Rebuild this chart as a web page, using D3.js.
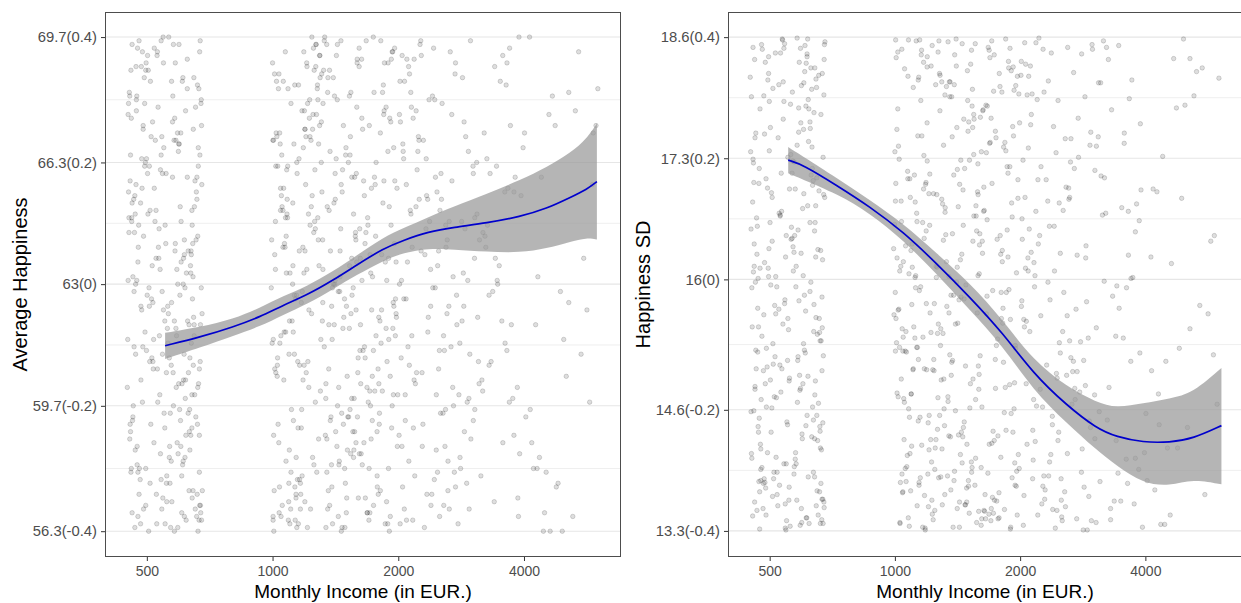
<!DOCTYPE html>
<html><head><meta charset="utf-8">
<script src="https://cdn.jsdelivr.net/npm/d3@7"></script>
<style>body{margin:0;background:#fff}svg{display:block}</style>
</head><body><svg id="c" width="1241" height="603"></svg>
<script>
// ---------- data ----------
const xTicks = [500, 1000, 2000, 4000];
const avgTicks = [69.7, 66.3, 63, 59.7, 56.3];
const avgLabels = ["69.7(0.4)", "66.3(0.2)", "63(0)", "59.7(-0.2)", "56.3(-0.4)"];
const sdTicks = [18.6, 17.3, 16, 14.6, 13.3];
const sdLabels = ["18.6(0.4)", "17.3(0.2)", "16(0)", "14.6(-0.2)", "13.3(-0.4)"];

// smooth fits (loess + CI) — left panel
const avgSmoothX = [553, 670, 806, 933, 1061, 1208, 1399, 1591, 1843, 2058, 2362, 2711, 3259, 3916, 4538, 5160, 5658, 5979];
const avgFit   = [61.33, 61.56, 61.84, 62.11, 62.43, 62.70, 63.11, 63.52, 63.97, 64.19, 64.42, 64.54, 64.66, 64.83, 65.05, 65.35, 65.57, 65.78];
const avgUpper = [61.68, 61.83, 62.05, 62.36, 62.68, 62.94, 63.35, 63.78, 64.27, 64.52, 64.82, 65.10, 65.45, 65.82, 66.17, 66.55, 66.95, 67.36];
const avgLower = [60.97, 61.28, 61.60, 61.85, 62.17, 62.45, 62.87, 63.25, 63.64, 63.85, 63.97, 63.94, 63.88, 63.85, 63.97, 64.15, 64.26, 64.21];
// right panel
const sdSmoothX = [554, 602, 724, 871, 1047, 1260, 1514, 1821, 2150, 2585, 3052, 3409, 3950, 4578, 5209, 6094];
const sdFit   = [17.28, 17.23, 17.01, 16.78, 16.51, 16.17, 15.81, 15.42, 14.99, 14.65, 14.40, 14.31, 14.25, 14.25, 14.29, 14.43];
const sdUpper = [17.42, 17.32, 17.09, 16.85, 16.60, 16.28, 15.96, 15.56, 15.13, 14.85, 14.68, 14.62, 14.67, 14.72, 14.78, 15.05];
const sdLower = [17.14, 17.07, 16.92, 16.71, 16.42, 16.06, 15.67, 15.28, 14.81, 14.46, 14.17, 14.00, 13.81, 13.78, 13.86, 13.80];

// jittered observations (batch A)
const incomeLow = [
452,611,538,668,497,574,461,649,521,602,478,673,549,486,637,455,588,659,509,470,
625,562,483,676,531,644,466,594,664,517,458,573,612,491,657,545,451,632,503,582,
671,474,556,619,463,527,666,495,641,569,468,603,513,662,480,585,651,457,541,628,
489,675,552,471,615,507,654,578,460,591,524,645,476,669,536,599,465,621,493,647,
566,453,607,543,672,473,579,634,499,661,456,558,617,485,646,533,469,596,663,515];
const avgLow = [
67.9,58.2,63.4,60.7,68.8,57.1,65.2,61.9,69.4,59.3,64.6,56.8,66.7,62.3,58.9,68.1,60.2,65.9,57.6,63.0,
69.1,61.4,56.5,67.3,59.8,64.1,62.8,58.4,66.2,60.9,57.9,68.5,63.7,56.9,65.5,61.1,67.6,59.0,64.9,62.0,
69.6,58.6,66.0,60.4,63.2,57.3,68.3,61.7,65.0,59.5,56.4,67.1,62.6,64.3,58.0,69.0,60.0,66.5,57.7,63.9,
61.3,68.0,59.1,65.7,56.7,62.4,67.8,60.6,64.7,58.7,66.9,57.4,63.6,69.3,61.6,59.6,65.3,56.6,68.6,62.1,
58.3,64.4,60.3,67.0,57.0,63.1,69.5,61.0,66.4,59.2,65.8,57.8,62.9,68.9,60.8,64.0,58.5,66.8,56.3,63.5];
const sdLow = [
14.13,17.86,15.52,13.64,18.21,16.47,14.85,17.09,13.93,16.04,18.52,15.18,13.41,17.56,14.49,16.83,15.77,13.72,18.05,14.36,
16.61,17.34,15.02,13.55,18.43,14.91,16.27,17.68,13.81,15.63,17.04,13.99,18.32,15.26,16.95,13.33,14.58,17.42,15.94,18.59,
14.46,16.12,13.63,17.93,15.24,16.71,14.17,18.14,13.88,16.35,15.69,17.61,14.74,13.38,18.47,16.53,15.41,17.25,14.02,15.97,
13.76,17.98,15.13,17.03,14.54,16.88,13.47,15.92,18.36,14.81,17.52,16.24,13.84,15.48,18.58,14.29,16.66,17.83,15.06,13.57,
16.44,14.08,18.23,15.74,17.31,13.32,16.14,14.63,17.91,15.34,18.49,14.94,16.79,13.86,15.59,17.14,14.42,18.08,16.31,15.17];
const incomeHigh = [
1012,1387,1154,1832,1063,1521,1247,1976,1105,1689,1298,1004,1442,1770,1189,1605,1036,1913,1352,1128,
1568,1225,1861,995,1474,1270,1722,1081,1409,1947,1166,1540,1319,1050,1801,1213,1647,1003,1456,1891,
1139,1373,1590,1027,1745,1284,1098,1962,1431,1202,1666,1342,1071,1816,1511,1236,993,1626,1177,1398,
1877,1118,1557,1309,1047,1710,1261,1934,1488,1145,1385,1018,1791,1612,1196,1059,1464,1850,1330,1091,
1578,1253,1990,1420,1135,1683,1009,1528,1292,1761,1172,1040,1364,1904,1219,1634,1077,1499,1824,1149,
1276,1033,1735,1413,1110,1591,998,1355,1958,1242,1655,1087,1448,1183,1875,1022,1547,1313,1122,1705,
1066,1392,1922,1207,1614,1043,1481,1789,1160,1325,1016,1572,1266,1846,1095,1437,1673,1188,1006,1533,
1970,1302,1131,1750,1376,1054,1597,1229,1898,1467,1074,1348,1640,1143,1808,1026,1505,1281,1101,1725,
1416,1195,1941,1037,1583,
2043,2587,2219,2870,2126,2406,2735,2014,2338,2952,2171,2509,2093,2648,2264,2811,2055,2452,2198,2916,
2370,2104,2689,2291,2547,2032,2781,2159,2430,2985,2242,2616,2078,2483,2850,2316,2137,2712,2024,2567,
2395,2889,2183,2466,2060,2758,2280,2630,2117,2934,2352,2525,2207,2675,2068,
3087,3642,4215,3318,5120,3856,3154,4678,3490,5830,3025,4012,3731,4452,3226,5406,3560,3980,4890,3112,
3395,6010,4318,3785,3050,4590,3604,5235,3271,4125,3905,3438,5660,3172,4780,3510,3045,4402,3690,5950];
const avgHigh = [
63.8,57.5,68.4,60.1,65.6,59.4,67.2,62.2,56.9,64.8,69.2,61.5,58.1,66.3,63.3,57.2,68.7,60.5,65.1,62.7,
59.9,67.5,56.5,64.2,61.8,69.5,58.8,66.1,63.0,60.0,57.6,68.2,62.5,65.4,59.2,67.9,61.2,56.7,64.5,69.0,
58.3,66.6,63.6,60.8,57.0,68.0,62.0,65.8,59.7,67.0,61.0,56.4,64.0,69.6,58.5,66.9,62.9,60.3,57.8,68.6,
63.1,65.2,59.0,67.4,61.6,56.8,64.7,69.3,58.0,66.0,62.4,60.6,57.3,68.9,63.9,65.0,59.5,67.7,61.3,56.6,
64.3,69.4,58.6,66.4,62.6,60.2,57.4,68.1,63.5,65.7,59.1,67.1,61.9,56.3,64.9,69.1,58.2,66.7,62.3,60.9,
57.9,68.3,63.2,65.3,59.6,67.8,61.4,56.9,64.1,69.7,58.7,66.2,62.8,60.4,57.1,68.5,63.7,65.5,59.3,67.3,
61.7,56.5,64.6,69.0,58.4,66.8,62.1,60.7,57.7,68.8,63.4,65.9,59.8,67.6,61.1,56.7,64.4,69.3,58.9,66.5,
62.6,60.1,57.5,68.2,63.9,65.1,59.4,67.0,61.5,56.4,64.8,69.5,58.1,66.3,62.0,60.5,57.2,68.4,63.3,65.6,
59.0,67.2,61.8,56.8,64.2,69.2,58.6,66.1,62.4,60.8,57.3,68.7,63.0,65.4,59.9,67.5,61.2,56.6,64.7,69.6,
58.3,66.6,62.9,60.3,57.6,68.0,63.6,65.8,59.2,67.9,61.0,56.5,64.0,69.4,58.8,66.9,62.2,60.0,57.9,68.6,
63.8,65.0,59.7,67.4,61.6,57.0,64.5,69.1,58.5,66.4,62.7,60.6,57.4,68.9,63.1,65.3,59.5,67.7,61.3,56.9,
64.9,69.0,58.0,66.0,62.5,60.2,57.8,68.1,63.5,65.7,59.3,67.1,61.9,56.3,64.3,69.3,58.7,66.7,62.8,60.9,
57.1,68.3,63.2,65.5,59.6,67.6,61.4,56.7,64.6,69.7,58.4,66.2,62.3,60.4,57.5,68.5,63.7,65.9,59.8,67.3];
const sdHigh = [
16.23,13.84,17.92,14.57,15.44,18.31,13.52,16.87,15.03,17.46,14.18,18.57,15.81,13.43,16.52,17.74,14.93,13.87,18.12,15.27,
16.68,14.04,17.21,15.62,13.58,18.44,14.37,16.06,17.63,15.29,13.34,16.41,17.98,14.72,15.86,17.13,13.69,16.84,14.31,18.48,
15.14,17.53,13.51,16.09,14.83,18.19,15.73,13.94,17.02,14.46,16.64,18.55,14.11,15.53,17.28,13.42,16.33,17.81,15.04,14.59,
18.27,16.02,13.79,17.44,15.38,14.24,16.91,18.03,13.61,15.88,17.12,14.74,16.47,13.36,18.39,15.23,17.72,14.38,16.19,13.73,
15.64,18.09,13.97,16.78,17.54,13.48,15.32,18.46,14.92,16.43,16.97,13.91,15.83,18.24,14.28,16.73,13.44,17.59,15.11,14.52,
18.56,16.14,13.63,17.18,15.49,14.82,16.59,17.96,13.78,15.02,17.87,14.13,16.27,13.31,18.34,15.68,17.34,14.61,16.04,13.54,
15.22,18.41,14.36,16.92,17.37,13.71,15.94,18.07,14.22,16.48,17.83,13.39,15.42,18.58,14.77,16.21,13.92,17.04,15.58,13.98,
18.18,16.81,13.57,17.52,15.13,14.68,16.37,18.51,13.34,15.79,17.08,14.32,16.74,13.82,18.01,15.27,17.69,14.54,16.13,13.49,
15.53,18.28,14.03,16.62,17.24,13.68,14.97,18.59,14.86,16.29,17.64,13.43,15.71,18.13,14.41,16.04,13.86,17.41,15.16,14.63,
18.42,16.88,13.52,17.93,15.37,14.12,16.54,18.22,13.64,15.86,17.28,14.79,16.18,13.33,18.47,15.61,16.98,14.23,16.82,13.77,
15.08,17.99,14.71,16.43,17.51,13.53,15.76,18.54,14.27,16.12,17.73,13.89,15.34,18.29,14.48,16.57,13.41,17.07,15.01,14.88,
18.11,16.26,13.74,17.82,15.47,13.96,16.69,18.37,13.62,15.19,17.17,14.56,16.02,13.37,18.49,15.72,17.57,14.14,16.87,13.83,
15.39,18.16,14.44,16.51,17.43,13.47,15.91,17.97,14.84,16.24,16.96,13.92,15.63,18.56,14.19,16.77,13.39,17.32,15.12,14.66];

// jittered observations (batch B)
const incomeLowB = [
463,598,517,642,471,555,629,488,667,534,452,609,576,499,653,460,541,618,506,674,
482,587,526,661,449,570,637,494,603,548,467,679,519,592,456,625,563,476,648,508,
584,539,670,461,614,497,553,633,472,600,528,659,484,577,451,620,545,668,502,589,
469,641,561,490,606,530,677,458,572,636,514,595,479,656,547,464,626,583,505,650,
537,454,611,568,496,672,520,604,475,643,558,487,665,532,615,459,581,639,510,550];
const avgLowB = [
59.4,66.8,62.5,57.2,68.9,64.1,60.6,69.3,56.6,63.7,65.5,58.1,67.4,61.2,56.9,64.8,69.6,59.9,62.9,67.9,
57.7,61.8,65.0,68.4,60.2,56.4,63.3,66.2,58.6,69.0,64.4,57.4,61.5,67.1,59.2,65.9,62.2,56.7,68.6,60.9,
63.9,58.4,66.5,69.5,61.1,57.0,64.6,59.6,67.7,62.7,56.5,65.3,60.4,68.1,63.1,58.9,66.0,57.9,69.2,61.6,
64.9,59.1,62.4,67.2,56.8,60.7,65.7,68.8,58.2,63.5,61.0,66.6,57.3,64.2,69.7,59.7,62.0,67.5,56.3,65.1,
60.0,68.2,63.0,57.6,66.3,61.9,58.7,64.7,69.4,62.6,57.1,65.6,60.3,67.8,63.8,58.0,66.9,61.4,68.5,59.5];
const sdLowB = [
17.57,14.34,16.03,18.27,13.83,15.46,17.12,14.88,13.42,16.73,17.96,15.21,14.07,17.38,16.32,13.61,18.48,14.96,14.62,16.91,
13.54,17.84,15.68,14.37,18.17,16.09,13.93,16.98,15.31,14.02,16.57,18.55,14.73,13.36,17.29,15.87,16.43,14.18,18.06,13.67,
15.13,17.72,16.21,14.82,13.44,18.39,15.58,17.19,14.51,16.76,13.79,15.43,17.97,14.14,16.54,17.48,13.59,15.81,14.92,18.33,
16.01,14.29,17.88,13.47,15.24,16.68,18.52,14.59,13.91,17.06,15.72,16.28,13.98,18.19,13.31,15.04,17.62,14.68,16.93,13.73,
18.57,15.49,14.43,17.27,16.12,13.38,15.92,18.11,14.23,16.61,16.97,13.82,15.34,14.79,18.42,16.38,13.63,17.79,15.09,14.47];
const incomeHighB = [
1121,1478,1703,1266,1925,1048,1391,1587,1174,1842,1320,1039,1652,1215,1458,1980,1100,1536,1779,1287,
1011,1619,1349,1157,1895,1426,1073,1733,1238,1502,1952,1192,1375,1059,1668,1834,1305,1125,1563,1412,
1000,1757,1244,1490,1141,1908,1338,1086,1603,1209,1812,1451,1029,1695,1272,1541,1166,1986,1363,1107,
1630,1255,1870,1429,1055,1718,1185,1514,1296,1945,1133,1403,1797,1020,1584,1230,1660,1357,1094,1862,
1471,1151,1743,1316,1007,1548,1204,1919,1384,1068,1624,1280,1780,1117,1496,1341,1960,1178,1685,1045,
1440,1250,1566,1083,1819,1369,1138,1712,1308,1031,1594,1222,1887,1460,1161,1643,1289,1078,1769,1407,
1195,1529,1002,1934,1330,
2088,2512,2245,2794,2150,2631,2377,2967,2019,2440,2706,2228,2559,2097,2843,2310,2476,2182,2900,2041,
2602,2354,2128,2742,2268,2531,2079,2664,2419,2957,2205,2498,2013,2820,2330,2579,2143,2725,2390,2051,
2880,2255,2643,2166,2455,
3185,3712,4356,3049,4980,3403,3867,5560,3260,4140,3558,3099,4621,3936,3337,5310,3784,3130,4265,3625,
4827,3451,3020,5745,3891,3299,4480,3660,5050,3212];
const avgHighB = [
61.7,67.3,58.0,64.5,69.1,56.7,62.9,66.0,59.6,68.4,63.4,57.5,65.8,60.9,69.6,62.1,56.5,67.0,59.0,64.2,
68.7,61.2,57.9,66.4,63.7,58.6,69.3,60.5,65.1,56.8,62.4,67.7,59.3,64.0,57.2,68.2,61.5,66.8,58.3,63.1,
69.0,60.1,65.4,56.4,62.7,67.5,58.9,64.8,61.0,68.9,57.4,63.9,66.2,59.8,69.5,62.2,56.9,65.6,60.7,67.9,
58.4,64.4,61.8,68.0,57.0,63.3,66.7,59.4,69.2,62.5,56.6,65.2,60.3,67.1,58.7,64.6,61.3,68.6,57.6,63.6,
66.1,59.1,69.7,62.0,56.3,65.9,60.6,67.4,58.1,64.1,61.9,68.3,57.8,63.0,66.5,59.9,69.4,62.8,56.8,65.0,
60.2,67.6,58.5,64.9,61.4,68.8,57.3,63.8,66.3,59.2,69.0,62.3,56.5,65.7,60.8,67.2,58.8,64.3,61.6,68.1,
57.1,63.5,66.9,59.7,69.6,62.6,56.7,65.3,60.0,67.8,58.2,64.7,61.1,68.5,57.7,63.2,66.6,59.5,69.1,62.0,
56.4,65.5,60.4,67.0,58.6,64.0,61.7,68.7,57.5,63.9,66.0,59.3,69.3,62.9,56.9,65.1,60.7,67.6,58.0,64.5,
61.2,68.2,57.9,63.4,66.8,59.0,69.5,62.4,56.6,65.9,60.1,67.3,58.3,64.8,61.5,68.9,57.2,63.7,66.4,59.6,
69.2,62.1,56.3,65.4,60.9,67.7,58.9,64.2,61.9,68.4,57.6,63.1,66.2,59.8,69.7,62.7,56.8,65.6,60.5,67.1];
const sdHighB = [
15.91,13.58,17.73,14.39,18.28,16.19,13.94,15.07,17.33,14.84,16.72,18.47,13.43,15.64,16.96,14.12,16.38,18.04,13.71,15.29,
17.61,14.63,16.03,18.41,13.32,15.78,17.16,14.27,16.92,13.84,18.08,15.03,16.49,13.97,17.86,13.53,15.42,18.56,14.71,16.13,
17.37,13.62,15.74,14.23,18.17,16.82,13.89,17.08,15.18,14.54,16.31,18.53,13.38,17.47,15.52,14.93,16.61,17.99,13.74,15.04,
17.82,14.28,16.24,13.34,18.26,15.88,17.02,14.62,16.86,13.79,15.27,18.58,14.09,17.43,16.04,13.48,15.63,18.12,14.77,16.53,
17.19,13.87,15.14,14.43,18.38,16.68,13.56,17.64,15.83,13.99,16.28,18.21,13.44,15.37,17.92,14.74,16.07,13.68,18.46,15.23,
17.28,14.19,16.79,13.35,15.69,17.96,14.48,17.03,16.42,13.82,14.98,18.29,14.87,16.58,17.54,13.51,15.47,18.57,14.32,15.97,
17.68,13.93,15.86,14.61,18.07,16.23,13.63,17.21,15.33,14.06,16.88,18.43,13.41,15.77,17.36,14.83,16.47,13.72,18.18,15.13,
17.07,14.36,16.73,13.31,15.57,18.49,14.04,17.77,16.26,13.78,15.44,17.98,14.66,16.09,17.58,13.47,15.21,18.34,14.18,16.84,
16.99,13.86,15.68,14.53,18.54,16.36,13.59,17.26,15.92,14.94,15.98,18.14,13.37,15.48,17.87,14.27,16.63,13.69,18.36,15.02,
17.46,14.58,16.17,13.34,15.82,18.23,14.08,17.11,16.94,13.81,15.26,18.51,14.76,16.41,17.67,13.54,15.12,17.94,14.41,16.71];

// jittered observations (batch C)
const incomeLowC = [
548,473,631,509,662,587,455,604,529,676,491,566,619,462,543,652,501,597,474,638,
557,486,669,523,610,450,579,645,512,593,468,634,552,498,671,539,606,477,625,560,
457,590,516,658,483,573,641,504,617,535,466,664,546,593,479,628,521,678,494,582,
453,612,567,507,649,472,557,639,488,601,530,675,461,585,518,646,497,622,541,470,
660,576,511,608,484,642,553,459,596,526,668,502,631,564,476,615,544,655,490,572];
const avgLowC = [
62.3,68.1,57.4,65.0,60.2,66.9,58.8,63.6,69.2,56.6,64.3,61.0,67.7,59.3,56.9,65.8,62.7,69.5,58.1,63.9,
60.6,66.4,57.0,64.7,68.6,61.5,59.7,63.2,67.0,56.4,65.4,58.5,62.0,69.0,60.9,66.1,57.8,64.0,68.3,61.8,
59.0,63.4,67.4,56.7,65.2,62.5,60.0,68.8,58.3,64.5,61.3,66.7,57.2,63.0,69.6,59.5,65.6,62.2,67.9,56.3,
64.8,60.4,58.6,66.2,61.6,68.0,57.6,63.8,59.8,65.1,69.3,62.9,56.8,64.1,60.7,67.2,58.0,63.3,66.5,61.1,
57.3,65.9,59.2,68.5,62.4,64.6,56.5,67.5,60.3,63.7,58.9,66.0,61.9,69.7,57.9,64.2,62.8,59.4,67.3,60.8];
const sdLowC = [
16.47,13.72,18.04,15.31,14.19,17.58,13.46,16.92,15.08,18.36,14.63,17.14,13.88,15.97,18.53,14.27,16.61,13.39,17.83,15.44,
14.91,16.18,18.21,13.57,15.66,17.37,14.02,16.79,13.93,18.48,15.22,17.01,14.44,16.33,13.64,18.12,15.83,14.71,17.69,13.35,
16.08,14.97,18.43,15.58,13.81,17.26,16.52,14.36,18.58,15.04,13.52,17.77,16.24,14.83,15.39,18.27,13.69,16.88,14.14,17.44,
15.91,13.44,18.01,16.41,14.54,17.19,13.77,15.73,18.33,14.88,16.69,13.61,17.52,15.17,14.09,18.15,16.03,13.38,17.91,15.49,
14.42,16.97,13.86,18.51,15.62,14.76,17.31,16.14,13.54,18.09,15.02,17.63,14.31,16.56,13.96,18.39,15.78,14.67,17.08,16.29];
const incomeHighC = [
1084,1533,1227,1796,1370,1016,1612,1190,1889,1445,1119,1701,1296,1041,1563,1928,1258,1487,1147,1754,
1342,1005,1637,1212,1853,1405,1097,1580,1274,1994,1168,1468,1727,1061,1380,1825,1233,1519,1128,1676,
1318,1895,1024,1437,1600,1200,1782,1355,1079,1547,1263,1968,1153,1692,1422,1035,1503,1870,1221,1366,
1107,1622,1300,1744,1478,1052,1914,1182,1560,1333,1012,1659,1247,1812,1398,1138,1527,1089,1716,1283,
1950,1461,1172,1595,1064,1838,1349,1208,1636,1028,1494,1765,1269,1114,1572,1412,1880,1159,1686,1321,
1045,1538,1240,1939,1389,1093,1617,1196,1803,1451,1130,1709,1289,1003,1550,1903,1256,1430,1075,1665,
1360,1976,1176,1509,1018,1733,1311,1585,1143,1848,
2110,2598,2283,2875,2036,2467,2742,2190,2538,2062,2925,2333,2650,2145,2415,2808,2009,2485,2235,2700,
2091,2570,2360,2978,2174,2620,2297,2763,2048,2445,2863,2212,2517,2120,2686,2391,2021,2836,2271,2595,
2155,2944,2342,2498,2070,
3123,3598,4175,3367,4750,3880,3240,5480,3695,4040,3082,3460,4520,3810,3300,5120,3540,4300,3190,5860,
3760,3415,4940,3025,3640];
const avgHighC = [
65.3,59.6,68.0,62.1,57.0,64.7,69.4,60.8,66.6,58.2,63.5,56.6,67.3,61.4,64.9,59.1,68.8,62.6,57.7,65.9,
60.3,66.9,63.1,56.4,69.0,61.9,58.5,64.4,67.6,60.0,57.3,65.5,62.3,68.5,59.4,63.8,56.9,66.3,61.1,69.6,
64.2,58.0,67.0,62.8,60.6,65.7,57.5,68.2,63.3,59.9,66.1,61.6,56.5,64.6,69.2,58.7,62.4,67.8,60.2,65.0,
57.9,63.7,68.6,61.2,59.2,66.5,56.7,64.0,62.9,69.7,60.7,65.4,58.3,67.1,63.0,57.2,61.8,68.3,59.7,64.8,
66.7,56.3,62.5,69.1,60.4,65.2,58.8,63.4,67.5,61.0,57.6,64.3,68.9,62.0,59.0,66.0,60.9,63.9,56.8,67.9,
65.6,58.4,62.2,69.3,61.5,57.1,64.5,67.2,59.5,63.2,68.4,60.1,66.8,56.6,62.7,65.1,58.1,69.5,61.7,64.1,
57.4,63.6,67.7,60.5,66.2,59.3,68.7,62.3,56.4,65.8,61.3,64.6,58.6,67.4,63.1,60.0,69.0,57.8,65.3,62.6,
59.8,66.4,56.9,64.9,68.1,61.4,58.9,63.5,67.0,60.2,65.7,57.0,62.1,69.6,59.1,64.2,66.9,61.9,57.5,68.0,
63.3,60.6,65.0,58.2,67.6,62.4,56.5,64.7,69.2,59.6,61.6,66.6,57.3,63.9,68.5,60.3,65.5,58.7,62.8,67.3,
56.7,64.0,61.1,69.4,59.4,66.3,63.0,57.9,65.9,60.8,68.2,62.0,58.0,64.4,67.1,59.9,63.7,56.3,66.0,61.2];
const sdHighC = [
14.52,17.86,13.63,16.27,15.11,18.44,13.98,15.74,17.21,14.36,16.83,13.41,18.12,15.47,14.08,17.54,16.02,13.76,18.57,15.29,
14.69,17.03,13.52,16.58,15.86,18.29,14.21,16.94,13.87,17.68,15.38,14.47,18.02,16.36,13.34,17.42,15.03,14.88,16.71,18.49,
13.69,15.57,17.29,14.12,16.49,13.91,18.21,15.19,14.61,17.77,16.13,13.47,15.92,18.38,14.33,16.84,13.78,17.14,15.43,14.97,
18.06,16.41,13.58,17.59,15.07,14.28,16.67,13.33,18.53,15.71,14.78,17.36,13.96,16.19,15.52,18.14,14.04,16.88,13.66,17.81,
15.26,14.41,18.33,16.06,13.83,17.47,15.64,14.17,16.99,13.39,18.24,15.36,14.73,17.12,16.52,13.54,15.89,18.46,14.23,16.77,
13.72,17.63,15.14,14.89,18.09,16.31,13.43,17.27,15.58,14.03,16.62,18.56,13.88,15.23,17.72,14.56,16.14,13.61,18.18,15.82,
14.31,17.07,16.44,13.49,15.67,18.41,14.93,16.91,13.79,17.38,15.44,14.13,18.01,16.23,13.36,17.92,15.01,14.64,16.74,18.31,
13.67,15.97,17.51,14.38,16.57,13.93,18.19,15.32,14.82,17.19,16.09,13.56,15.78,18.52,14.26,16.86,13.74,17.31,15.49,14.99,
17.96,16.38,13.45,17.66,15.12,14.44,16.65,13.31,18.47,15.61,14.71,17.44,13.89,16.28,15.55,18.11,14.07,16.97,13.62,17.84,
15.21,14.49,18.27,16.01,13.84,17.53,15.69,14.19,16.81,13.42,18.37,15.37,14.77,17.09,16.47,13.59,15.93,18.58,14.29,16.73];

// ---------- drawing ----------
const svg = d3.select("#c");
svg.append("rect").attr("width", 1241).attr("height", 603).attr("fill", "#fff");
const FONT = "'Liberation Sans', Arial, Helvetica, sans-serif";
const xDomain = [397, 6829];
const incomeAll = incomeLow.concat(incomeHigh, incomeLowB, incomeHighB, incomeLowC, incomeHighC);

function panel(cfg) {
  const top = 12, bottom = 557;
  const x = d3.scaleLog().domain(xDomain).range([cfg.left, cfg.right]);
  const y = d3.scaleLinear().domain(cfg.yDomain).range([bottom, top]);
  const g = svg.append("g");
  const clipId = "clip" + cfg.id;
  svg.append("defs").append("clipPath").attr("id", clipId)
    .append("rect").attr("x", cfg.left).attr("y", top)
    .attr("width", cfg.right - cfg.left).attr("height", bottom - top);

  // minor grid (midpoints between major breaks)
  const t = cfg.ticks, n = t.length;
  const minor = [];
  for (let i = 0; i < n - 1; i++) minor.push((t[i] + t[i + 1]) / 2);
  minor.push(t[0] + (t[0] - t[1]) / 2, t[n - 1] - (t[n - 2] - t[n - 1]) / 2);
  g.append("g").selectAll("line").data(minor.filter(v => y(v) > top && y(v) < bottom)).join("line")
    .attr("x1", cfg.left).attr("x2", cfg.right)
    .attr("y1", d => y(d)).attr("y2", d => y(d))
    .attr("stroke", "#efefef").attr("stroke-width", 1);
  g.append("g").selectAll("line").data(t).join("line")
    .attr("x1", cfg.left).attr("x2", cfg.right)
    .attr("y1", d => y(d)).attr("y2", d => y(d))
    .attr("stroke", "#e6e6e6").attr("stroke-width", 1.1);

  const inner = g.append("g").attr("clip-path", `url(#${clipId})`);
  // points
  inner.append("g").selectAll("circle").data(d3.range(cfg.px.length)).join("circle")
    .attr("cx", i => x(cfg.px[i])).attr("cy", i => y(cfg.py[i])).attr("r", 2.25)
    .attr("fill", "#000").attr("fill-opacity", 0.13)
    .attr("stroke", "#000").attr("stroke-opacity", 0.21).attr("stroke-width", 0.7);

  // ribbon + line
  const idx = d3.range(cfg.sx.length);
  inner.append("path").datum(idx)
    .attr("d", d3.area().curve(d3.curveBasis)
      .x(i => x(cfg.sx[i])).y0(i => y(cfg.lo[i])).y1(i => y(cfg.hi[i])))
    .attr("fill", "#999999").attr("fill-opacity", 0.72);
  inner.append("path").datum(idx)
    .attr("d", d3.line().curve(d3.curveBasis)
      .x(i => x(cfg.sx[i])).y(i => y(cfg.fit[i])))
    .attr("fill", "none").attr("stroke", "#0000CC").attr("stroke-width", 1.7);

  // border
  g.append("rect").attr("x", cfg.left + 0.5).attr("y", top + 0.5)
    .attr("width", cfg.right - cfg.left - 1).attr("height", bottom - top - 1)
    .attr("fill", "none").attr("stroke", "#4d4d4d").attr("stroke-width", 1);

  // axes
  const ya = g.append("g").attr("transform", `translate(${cfg.left},0)`)
    .call(d3.axisLeft(y).tickValues(t).tickFormat((d, i) => cfg.labels[i]).tickSize(4).tickPadding(4));
  const xa = g.append("g").attr("transform", `translate(0,${bottom})`)
    .call(d3.axisBottom(x).tickValues(xTicks).tickFormat(d3.format("d")).tickSize(4).tickPadding(5));
  [ya, xa].forEach(a => {
    a.select(".domain").remove();
    a.selectAll(".tick line").attr("stroke", "#333").attr("stroke-width", 1);
    a.selectAll(".tick text").attr("fill", "#4d4d4d").attr("font-family", FONT);
  });
  ya.selectAll(".tick text").attr("font-size", 14.8);
  xa.selectAll(".tick text").attr("font-size", 14);

  // titles
  g.append("text").attr("x", (cfg.left + cfg.right) / 2).attr("y", 598)
    .attr("text-anchor", "middle").attr("font-size", 19).attr("font-family", FONT).attr("fill", "#000")
    .text("Monthly Income (in EUR.)");
  g.append("text").attr("transform", `translate(${cfg.titleX},${(top + bottom) / 2}) rotate(-90)`)
    .attr("text-anchor", "middle").attr("font-size", 20).attr("font-family", FONT).attr("fill", "#000")
    .text(cfg.title);
}

panel({
  id: "L", left: 105, right: 621, yDomain: [55.6, 70.38],
  ticks: avgTicks, labels: avgLabels, title: "Average Happiness", titleX: 27,
  px: incomeAll, py: avgLow.concat(avgHigh, avgLowB, avgHighB, avgLowC, avgHighC),
  sx: avgSmoothX, fit: avgFit, hi: avgUpper, lo: avgLower
});
panel({
  id: "R", left: 728, right: 1242, yDomain: [13.02, 18.87],
  ticks: sdTicks, labels: sdLabels, title: "Happiness SD", titleX: 650,
  px: incomeAll, py: sdLow.concat(sdHigh, sdLowB, sdHighB, sdLowC, sdHighC),
  sx: sdSmoothX, fit: sdFit, hi: sdUpper, lo: sdLower
});
</script>
</body></html>
